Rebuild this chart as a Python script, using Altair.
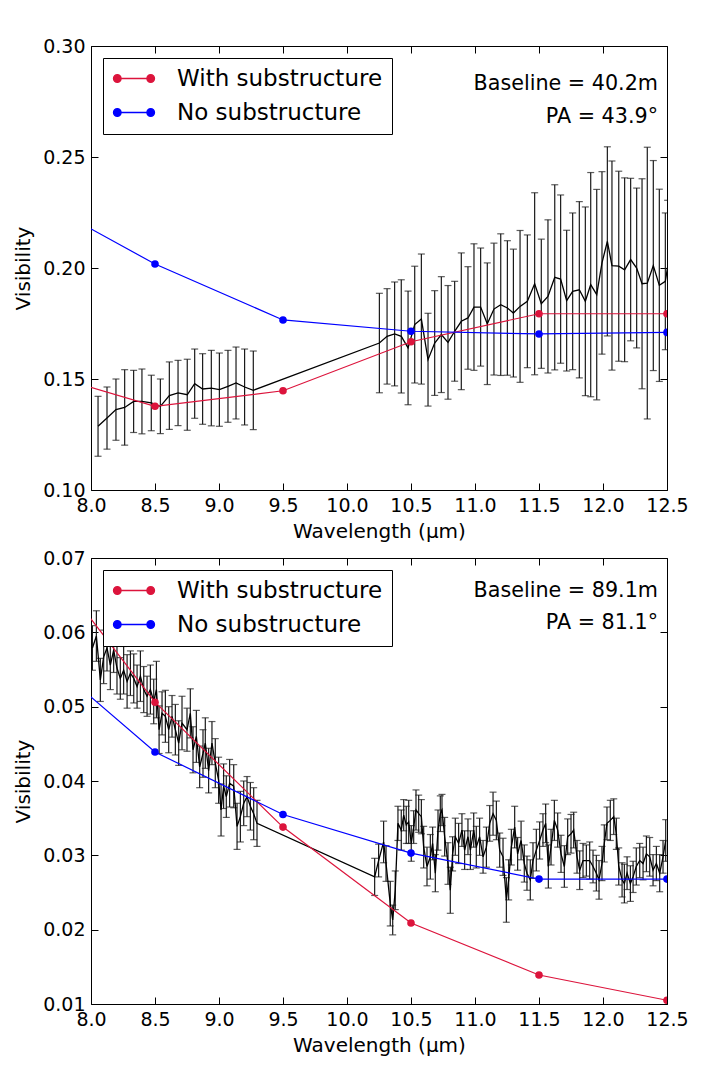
import altair as alt
import pandas as pd

FONT = "DejaVu Sans"
X_TICKS = [8.0, 8.5, 9.0, 9.5, 10.0, 10.5, 11.0, 11.5, 12.0, 12.5]
MODEL_NAMES = ["With substructure", "No substructure"]
MODEL_COLORS = ["#DC143C", "#0000FF"]
MODEL_WL = [7.5, 8.5, 9.5, 10.5, 11.5, 12.5]

# ---------------- top panel (baseline 40.2 m) ----------------
TOP_WL = [8.055, 8.125, 8.195, 8.263, 8.333, 8.398, 8.471, 8.542, 8.612, 8.680,
          8.752, 8.810, 8.872, 8.940, 9.003, 9.070, 9.133, 9.200, 9.268,
          10.253, 10.313, 10.372, 10.424, 10.477, 10.529, 10.581, 10.633, 10.685, 10.737,
          10.789, 10.841, 10.893, 10.945, 10.992, 11.044, 11.096, 11.148, 11.201, 11.253,
          11.300, 11.352, 11.409, 11.466, 11.518, 11.570, 11.623, 11.669, 11.716, 11.763,
          11.815, 11.862, 11.904, 11.951, 11.992, 12.034, 12.070, 12.123, 12.169, 12.216,
          12.263, 12.305, 12.346, 12.393, 12.440, 12.487, 12.505]
TOP_VIS = [0.1287, 0.1324, 0.1362, 0.1372, 0.1399, 0.1399, 0.1392, 0.1377, 0.1425, 0.1437,
           0.1429, 0.1479, 0.1455, 0.1459, 0.1452, 0.1467, 0.1482, 0.1464, 0.1449,
           0.1662, 0.1692, 0.1703, 0.1692, 0.1640, 0.1745, 0.1770, 0.1587, 0.1662, 0.1700,
           0.1665, 0.1715, 0.1760, 0.1775, 0.1824, 0.1824, 0.1749, 0.1815, 0.1835, 0.1820,
           0.1797, 0.1827, 0.1850, 0.1929, 0.1839, 0.1872, 0.1958, 0.1950, 0.1853, 0.1895,
           0.1902, 0.1850, 0.1925, 0.1880, 0.2023, 0.2120, 0.2011, 0.2008, 0.1992, 0.2038,
           0.2000, 0.1929, 0.1932, 0.2011, 0.1922, 0.1940, 0.2005]
TOP_ERR = [0.0135, 0.0140, 0.0138, 0.0170, 0.0140, 0.0146, 0.0125, 0.0123, 0.0152, 0.0147,
           0.0160, 0.0156, 0.0159, 0.0170, 0.0165, 0.0162, 0.0162, 0.0171, 0.0177,
           0.0224, 0.0215, 0.0234, 0.0255, 0.0256, 0.0263, 0.0293, 0.0209, 0.0236, 0.0261,
           0.0256, 0.0225, 0.0308, 0.0231, 0.0285, 0.0266, 0.0274, 0.0297, 0.0319, 0.0303,
           0.0288, 0.0342, 0.0299, 0.0410, 0.0291, 0.0345, 0.0417, 0.0379, 0.0317, 0.0353,
           0.0397, 0.0425, 0.0505, 0.0474, 0.0411, 0.0426, 0.0471, 0.0428, 0.0414, 0.0366,
           0.0360, 0.0473, 0.0612, 0.0473, 0.0433, 0.0308, 0.0300]
TOP_WITH = [0.1548, 0.1377, 0.1447, 0.1668, 0.1794, 0.1794]
TOP_NO = [0.2334, 0.2018, 0.1766, 0.1715, 0.1703, 0.1710]
TOP_Y_TICKS = [0.10, 0.15, 0.20, 0.25, 0.30]
TOP_TEXT = ["Baseline = 40.2m", "PA = 43.9°"]

# ---------------- bottom panel (baseline 89.1 m) ----------------
BOT_WL = [8.011, 8.042, 8.073, 8.099, 8.125, 8.151, 8.177, 8.203, 8.229, 8.255,
          8.282, 8.308, 8.334, 8.360, 8.386, 8.412, 8.438, 8.464, 8.490, 8.511,
          8.532, 8.555, 8.581, 8.607, 8.633, 8.659, 8.685, 8.711, 8.750, 8.776,
          8.797, 8.823, 8.849, 8.875, 8.893, 8.919, 8.945, 8.971, 8.997, 9.016,
          9.036, 9.057, 9.083, 9.115, 9.141, 9.167, 9.193, 9.219, 9.245, 9.271, 9.297,
          10.216, 10.247, 10.286, 10.305, 10.338, 10.357, 10.377, 10.398, 10.424, 10.443,
          10.463, 10.482, 10.502, 10.521, 10.539, 10.560, 10.581, 10.599, 10.625, 10.651,
          10.669, 10.690, 10.711, 10.729, 10.742, 10.763, 10.789, 10.807, 10.825, 10.846,
          10.872, 10.898, 10.919, 10.945,
          10.964, 10.990, 11.010, 11.036, 11.063, 11.089, 11.115, 11.141, 11.167, 11.193,
          11.219, 11.245, 11.263, 11.284, 11.310, 11.333, 11.360, 11.385, 11.406, 11.432,
          11.453, 11.479, 11.505, 11.531, 11.552, 11.573, 11.594, 11.620, 11.646, 11.672,
          11.698, 11.724, 11.750,
          11.771, 11.797, 11.818, 11.844, 11.870, 11.896, 11.922, 11.948, 11.969, 11.992,
          12.010, 12.031, 12.057, 12.084, 12.104, 12.123, 12.149, 12.167, 12.188, 12.214,
          12.235, 12.260, 12.287, 12.313, 12.339, 12.365, 12.391, 12.417, 12.443, 12.469, 12.490]
BOT_VIS = [0.0579, 0.0595, 0.0536, 0.0567, 0.0579, 0.0556, 0.0576, 0.0552, 0.0538, 0.0549,
           0.0534, 0.0545, 0.0538, 0.0527, 0.0541, 0.0523, 0.0514, 0.0523, 0.0507, 0.0523,
           0.0469, 0.0491, 0.0487, 0.0469, 0.0487, 0.0469, 0.0451, 0.0478, 0.0469, 0.0491,
           0.0442, 0.0460, 0.0419, 0.0437, 0.0451, 0.0414, 0.0451, 0.0424, 0.0401, 0.0361,
           0.0393, 0.0379, 0.0397, 0.0393, 0.0339, 0.0352, 0.0370, 0.0379, 0.0366, 0.0356, 0.0343,
           0.0271, 0.0293, 0.0318, 0.0289, 0.0235, 0.0213, 0.0253, 0.0343, 0.0334, 0.0354,
           0.0341, 0.0345, 0.0316, 0.0338, 0.0361, 0.0356, 0.0352, 0.0311, 0.0285, 0.0298,
           0.0316, 0.0276, 0.0334, 0.0356, 0.0361, 0.0325, 0.0289, 0.0253, 0.0302, 0.0325,
           0.0316, 0.0334, 0.0307, 0.0325,
           0.0307, 0.0334, 0.0311, 0.0325, 0.0298, 0.0311, 0.0343, 0.0356, 0.0347, 0.0307,
           0.0298, 0.0240, 0.0267, 0.0311, 0.0338, 0.0302, 0.0320, 0.0289, 0.0276, 0.0267,
           0.0293, 0.0307, 0.0320, 0.0334, 0.0343, 0.0285, 0.0311, 0.0347, 0.0334, 0.0302,
           0.0285, 0.0325, 0.0329,
           0.0334, 0.0298, 0.0280, 0.0293, 0.0293, 0.0293, 0.0285, 0.0276, 0.0267, 0.0289,
           0.0316, 0.0343, 0.0347, 0.0352, 0.0329, 0.0285, 0.0267, 0.0262, 0.0276, 0.0262,
           0.0271, 0.0285, 0.0293, 0.0289, 0.0302, 0.0298, 0.0280, 0.0289, 0.0276, 0.0298, 0.0320]
BOT_ERR = [0.0030, 0.0034, 0.0029, 0.0036, 0.0031, 0.0033, 0.0030, 0.0035, 0.0028, 0.0032,
           0.0036, 0.0030, 0.0033, 0.0029, 0.0034, 0.0031, 0.0027, 0.0033, 0.0030, 0.0038,
           0.0032, 0.0029, 0.0035, 0.0031, 0.0028, 0.0034, 0.0030, 0.0036, 0.0029, 0.0033,
           0.0031, 0.0035, 0.0028, 0.0032, 0.0034, 0.0030, 0.0029, 0.0033, 0.0031, 0.0035,
           0.0030, 0.0028, 0.0032, 0.0029, 0.0031, 0.0034, 0.0030, 0.0027, 0.0032, 0.0035, 0.0031,
           0.0025, 0.0022, 0.0028, 0.0024, 0.0030, 0.0020, 0.0026, 0.0023, 0.0027, 0.0021,
           0.0025, 0.0029, 0.0024, 0.0022, 0.0027, 0.0025, 0.0023, 0.0028, 0.0026, 0.0030,
           0.0022, 0.0025, 0.0027, 0.0024, 0.0021, 0.0026, 0.0028, 0.0031, 0.0023, 0.0025,
           0.0027, 0.0022, 0.0026, 0.0024,
           0.0026, 0.0023, 0.0028, 0.0025, 0.0022, 0.0027, 0.0024, 0.0029, 0.0026, 0.0023,
           0.0025, 0.0030, 0.0027, 0.0024, 0.0028, 0.0022, 0.0026, 0.0025, 0.0023, 0.0027,
           0.0024, 0.0028, 0.0025, 0.0022, 0.0026, 0.0029, 0.0024, 0.0027, 0.0023, 0.0025,
           0.0028, 0.0024, 0.0026,
           0.0024, 0.0022, 0.0026, 0.0023, 0.0021, 0.0025, 0.0022, 0.0024, 0.0026, 0.0023,
           0.0025, 0.0022, 0.0027, 0.0024, 0.0021, 0.0025, 0.0023, 0.0026, 0.0022, 0.0024,
           0.0021, 0.0025, 0.0023, 0.0022, 0.0024, 0.0026, 0.0021, 0.0023, 0.0025, 0.0022, 0.0028]
BOT_WITH = [0.0730, 0.0506, 0.0338, 0.0209, 0.0139, 0.0105]
BOT_NO = [0.0587, 0.0439, 0.0355, 0.0303, 0.0268, 0.0268]
BOT_Y_TICKS = [0.01, 0.02, 0.03, 0.04, 0.05, 0.06, 0.07]
BOT_TEXT = ["Baseline = 89.1m", "PA = 81.1°"]

LEGEND_PATH = ("M-0.8,0L0.8,0"
               "M-0.62,0A0.18,0.18,0,1,1,-0.98,0A0.18,0.18,0,1,1,-0.62,0Z"
               "M0.98,0A0.18,0.18,0,1,1,0.62,0A0.18,0.18,0,1,1,0.98,0Z")


def axis(**kw):
    base = dict(offset=-7, tickSize=7, tickColor="black", tickWidth=1, domain=False,
                grid=False, labelFlush=False, labelOverlap=False, labelFont=FONT,
                labelFontSize=19, labelColor="black", titleFont=FONT, titleFontSize=20,
                titleFontWeight="normal", titleColor="black")
    base.update(kw)
    return alt.Axis(**base)


def panel(wl, vis, err, m_with, m_no, y_dom, y_ticks, texts, text_y, h):
    obs = pd.DataFrame({"wl": wl, "vis": vis, "err": err})
    obs["lo"] = obs["vis"] - obs["err"]
    obs["hi"] = obs["vis"] + obs["err"]
    mod = pd.DataFrame({
        "wl": MODEL_WL + MODEL_WL,
        "vis": m_with + m_no,
        "model": [MODEL_NAMES[0]] * len(MODEL_WL) + [MODEL_NAMES[1]] * len(MODEL_WL),
    })
    xs = alt.Scale(domain=[8.0, 12.5], nice=False, zero=False)
    ys = alt.Scale(domain=y_dom, nice=False, zero=False)
    cs = alt.Scale(domain=MODEL_NAMES, range=MODEL_COLORS)
    leg = alt.Legend(title=None, orient="top-left", offset=12, padding=9,
                     strokeColor="black", fillColor="white", cornerRadius=0,
                     symbolType=LEGEND_PATH, symbolSize=1743, symbolStrokeWidth=1.4,
                     symbolOpacity=1, clipHeight=23, rowPadding=10,
                     labelFont=FONT, labelFontSize=23, labelColor="black",
                     labelOffset=21, labelLimit=400)

    bars = alt.Chart(obs).mark_rule(color="#1a1a1a", strokeWidth=1.2, clip=True).encode(
        x=alt.X("wl:Q", scale=xs, title=None,
                axis=axis(orient="top", values=X_TICKS, labels=False)),
        y=alt.Y("lo:Q", scale=ys, title=None,
                axis=axis(orient="right", values=y_ticks, labels=False)),
        y2="hi:Q",
    )
    cap_lo = alt.Chart(obs).mark_tick(orient="horizontal", size=7, thickness=1.2,
                                      color="#1a1a1a", clip=True).encode(
        x=alt.X("wl:Q", scale=xs, axis=None),
        y=alt.Y("lo:Q", scale=ys, axis=None),
    )
    cap_hi = alt.Chart(obs).mark_tick(orient="horizontal", size=7, thickness=1.2,
                                      color="#1a1a1a", clip=True).encode(
        x=alt.X("wl:Q", scale=xs, axis=None),
        y=alt.Y("hi:Q", scale=ys, axis=None),
    )
    line = alt.Chart(obs).mark_line(color="black", strokeWidth=1.3, clip=True).encode(
        x=alt.X("wl:Q", scale=xs, title="Wavelength (μm)",
                axis=axis(orient="bottom", values=X_TICKS, format=".1f",
                          labelPadding=6, titlePadding=6)),
        y=alt.Y("vis:Q", scale=ys, title="Visibility",
                axis=axis(orient="left", values=y_ticks, format=".2f",
                          labelPadding=6, titlePadding=9)),
        order="wl:Q",
    )
    mlines = alt.Chart(mod).mark_line(strokeWidth=1.2, clip=True).encode(
        x=alt.X("wl:Q", scale=xs, axis=None),
        y=alt.Y("vis:Q", scale=ys, axis=None),
        color=alt.Color("model:N", scale=cs, legend=leg),
        order="wl:Q",
    )
    mpoints = alt.Chart(mod).mark_point(filled=True, size=58, opacity=1, clip=True).encode(
        x=alt.X("wl:Q", scale=xs, axis=None),
        y=alt.Y("vis:Q", scale=ys, axis=None),
        color=alt.Color("model:N", scale=cs, legend=leg),
    )
    txt_layers = []
    for t, ty in zip(texts, text_y):
        txt_layers.append(
            alt.Chart(pd.DataFrame({"t": [t]})).mark_text(
                align="right", baseline="middle", font=FONT, fontSize=20.7, color="black"
            ).encode(text="t:N", x=alt.value(567), y=alt.value(ty))
        )
    return alt.layer(bars, cap_lo, cap_hi, line, mlines, mpoints, *txt_layers).properties(
        width=576, height=h)


top = panel(TOP_WL, TOP_VIS, TOP_ERR, TOP_WITH, TOP_NO, [0.10, 0.30], TOP_Y_TICKS,
            TOP_TEXT, [37.5, 70.5], 444)
bottom = panel(BOT_WL, BOT_VIS, BOT_ERR, BOT_WITH, BOT_NO, [0.01, 0.07], BOT_Y_TICKS,
               BOT_TEXT, [32.5, 64.5], 446)

chart = alt.vconcat(top, bottom, spacing=6,
                    padding={"top": 28, "left": 5, "right": 5, "bottom": 5}).resolve_scale(
    x="independent", y="independent", color="independent"
).resolve_legend(color="independent").configure(
    background="white", font=FONT
).configure_view(stroke="black", strokeWidth=1)

chart.save("out.html", embed_options={"renderer": "svg", "actions": False})
